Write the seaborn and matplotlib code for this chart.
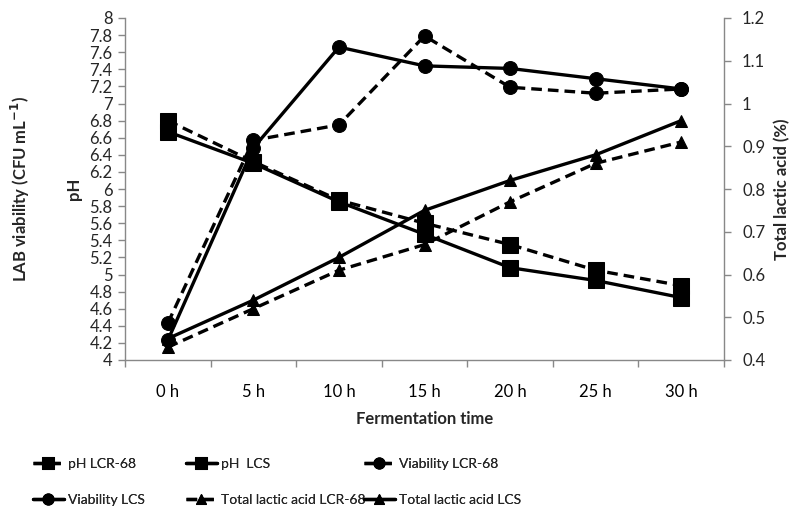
import matplotlib
matplotlib.use("Agg")
import matplotlib.pyplot as plt
import seaborn as sns
import numpy as np
from matplotlib.ticker import FixedLocator, FuncFormatter

sns.set_theme(style="white")
plt.rcParams['font.family'] = ['Lato', 'DejaVu Sans']

times = ["0 h", "5 h", "10 h", "15 h", "20 h", "25 h", "30 h"]
ph_lcr68 = [6.80, 6.32, 5.87, 5.60, 5.35, 5.05, 4.87]
ph_lcs = [6.67, 6.30, 5.85, 5.47, 5.08, 4.93, 4.73]
via_lcr68 = [4.43, 6.57, 6.75, 7.79, 7.19, 7.12, 7.17]
via_lcs = [4.23, 6.48, 7.66, 7.44, 7.41, 7.29, 7.17]
tla_lcr68 = [0.43, 0.52, 0.61, 0.67, 0.77, 0.86, 0.91]
tla_lcs = [0.45, 0.54, 0.64, 0.75, 0.82, 0.88, 0.96]

x = np.arange(len(times))
fig = plt.figure(figsize=(7.93, 5.12), dpi=100)
ax = fig.add_axes([125/793, 1-360/512, (724-125)/793, (360-18)/512])
ax2 = ax.twinx()

lw = 2.4
dash = (3.2, 1.8)
common = dict(color="black", linewidth=lw, markeredgecolor="black", markerfacecolor="black")

h = {}
sns.lineplot(x=x, y=ph_lcr68, ax=ax, marker="s", markersize=11, **common)
ax.lines[-1].set_dashes(dash); h['pH LCR-68'] = ax.lines[-1]
sns.lineplot(x=x, y=ph_lcs, ax=ax, marker="s", markersize=11, **common)
h['pH  LCS'] = ax.lines[-1]
sns.lineplot(x=x, y=via_lcr68, ax=ax, marker="o", markersize=10, **common)
ax.lines[-1].set_dashes(dash); h['Viability LCR-68'] = ax.lines[-1]
sns.lineplot(x=x, y=via_lcs, ax=ax, marker="o", markersize=10, **common)
h['Viability LCS'] = ax.lines[-1]
sns.lineplot(x=x, y=tla_lcr68, ax=ax2, marker="^", markersize=9, **common)
ax2.lines[-1].set_dashes(dash); h['Total lactic acid LCR-68'] = ax2.lines[-1]
sns.lineplot(x=x, y=tla_lcs, ax=ax2, marker="^", markersize=9, **common)
h['Total lactic acid LCS'] = ax2.lines[-1]

ax.set_xlim(-0.5, len(times) - 0.5)
ax.set_ylim(4, 8)
ax2.set_ylim(0.4, 1.2)

ax.set_yticks(np.round(np.arange(4, 8.01, 0.2), 1))
ax.yaxis.set_major_formatter(FuncFormatter(lambda v, p: f"{v:g}"))
ax2.set_yticks(np.round(np.arange(0.4, 1.201, 0.1), 1))
ax2.yaxis.set_major_formatter(FuncFormatter(lambda v, p: f"{v:g}"))

ax.set_xticks(x)
ax.set_xticklabels(times)
ax.xaxis.set_minor_locator(FixedLocator(np.arange(-0.5, len(times), 1.0)))
ax.tick_params(axis="x", which="major", length=0, pad=17, labelsize=12, colors="black")
ax.tick_params(axis="x", which="minor", length=5, width=1, color="#888888", direction="out", bottom=True)
ax.tick_params(axis="y", which="major", length=5, width=1, color="#888888", direction="out", left=True, labelsize=12, pad=4)
ax2.tick_params(axis="y", which="major", length=5, width=1, color="#888888", direction="out", right=True, labelsize=12, pad=8)

for a in (ax, ax2):
    a.grid(False)
    for s in a.spines.values():
        s.set_color("#888888")
        s.set_linewidth(1)
    a.spines["top"].set_visible(False)
ax.spines["right"].set_visible(False)
ax2.spines["left"].set_visible(False)
ax2.spines["bottom"].set_visible(False)

ax.set_xlabel("Fermentation time", fontsize=12, fontweight="bold", labelpad=8)
ax.set_ylabel("pH", fontsize=12, fontweight="bold", labelpad=5)
fig.text(20/793, 1-189/512, "LAB viability (CFU mL$^{\\mathbf{-1}}$)", rotation=90, fontsize=12,
         fontweight="bold", ha="center", va="center")
ax2.set_ylabel("Total lactic acid (%)", fontsize=12, fontweight="bold", labelpad=6)

columns = [['pH LCR-68', 'Viability LCS'],
           ['pH  LCS', 'Total lactic acid LCR-68'],
           ['Viability LCR-68', 'Total lactic acid LCS']]
col_x = [33, 186, 364]
for cx, labels in zip(col_x, columns):
    leg = fig.legend([h[k] for k in labels], labels, ncol=1, loc="upper left",
                     bbox_to_anchor=(cx/793, 1-458/512), frameon=False, fontsize=10,
                     handlelength=2.2, handletextpad=0.35, labelspacing=1.75,
                     borderaxespad=0, borderpad=0, markerscale=0.8)
    fig.add_artist(leg)

fig.savefig("out.png", dpi=100)
